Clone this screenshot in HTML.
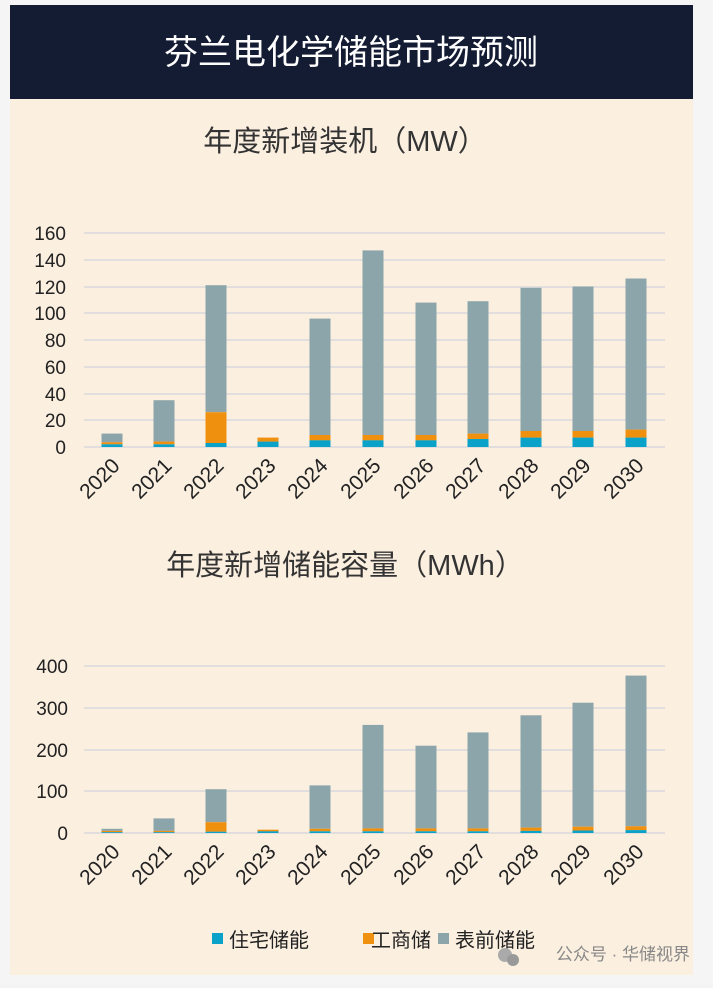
<!DOCTYPE html><html><head><meta charset="utf-8"><style>
body{margin:0;width:713px;height:983px;background:#f4f4f4;overflow:hidden}
</style></head><body>
<svg width="713" height="983" xmlns="http://www.w3.org/2000/svg" font-family="Liberation Sans, Noto Sans CJK SC, sans-serif">
<rect x="0" y="0" width="713" height="983" fill="#f5f5f5"/>
<rect x="10" y="5" width="683" height="970" fill="#fbefe0"/>
<rect x="10" y="5" width="683" height="94" fill="#131c33"/>
<text x="351" y="64" fill="#fff" font-size="34" text-anchor="middle">芬兰电化学储能市场预测</text>
<text x="345" y="151" fill="#333" font-size="29" text-anchor="middle">年度新增装机（MW）</text>
<text x="345" y="575" fill="#333" font-size="29" text-anchor="middle">年度新增储能容量（MWh）</text>
<g font-size="19" fill="#222">
<g stroke="#d9d9dc" stroke-width="1.5">
<line x1="84" x2="665" y1="447" y2="447"/><line x1="84" x2="665" y1="420" y2="420"/><line x1="84" x2="665" y1="394" y2="394"/><line x1="84" x2="665" y1="367" y2="367"/><line x1="84" x2="665" y1="340" y2="340"/><line x1="84" x2="665" y1="313" y2="313"/><line x1="84" x2="665" y1="287" y2="287"/><line x1="84" x2="665" y1="260" y2="260"/><line x1="84" x2="665" y1="233" y2="233"/>
</g>
<g text-anchor="end"><text x="66" y="454">0</text><text x="66" y="427">20</text><text x="66" y="401">40</text><text x="66" y="374">60</text><text x="66" y="347">80</text><text x="66" y="320">100</text><text x="66" y="294">120</text><text x="66" y="267">140</text><text x="66" y="240">160</text></g>
<g stroke="#d9d9dc" stroke-width="1.5">
<line x1="84" x2="665" y1="833" y2="833"/><line x1="84" x2="665" y1="791" y2="791"/><line x1="84" x2="665" y1="750" y2="750"/><line x1="84" x2="665" y1="708" y2="708"/><line x1="84" x2="665" y1="666" y2="666"/>
</g>
<g text-anchor="end"><text x="68" y="840">0</text><text x="68" y="798">100</text><text x="68" y="757">200</text><text x="68" y="715">300</text><text x="68" y="673">400</text></g>
</g>
<g fill="#8ba5aa">
<rect x="101.5" y="433.6" width="21" height="8.7"/>
<rect x="153.5" y="400.2" width="21" height="41.5"/>
<rect x="205.5" y="285.2" width="21" height="127"/>
<rect x="309.5" y="318.6" width="21" height="116.4"/>
<rect x="362.5" y="250.4" width="21" height="184.6"/>
<rect x="415.5" y="302.6" width="21" height="132.4"/>
<rect x="467.5" y="301.2" width="21" height="132.4"/>
<rect x="520.5" y="287.8" width="21" height="143.2"/>
<rect x="572.5" y="286.5" width="21" height="144.5"/>
<rect x="625.5" y="278.5" width="21" height="151.1"/>
</g>
<g fill="#f0900f">
<rect x="101.5" y="442.3" width="21" height="2"/>
<rect x="153.5" y="441.6" width="21" height="2.7"/>
<rect x="205.5" y="412.2" width="21" height="30.8"/>
<rect x="257.5" y="437.6" width="21" height="4.1"/>
<rect x="309.5" y="435" width="21" height="5.4"/>
<rect x="362.5" y="435" width="21" height="5.4"/>
<rect x="415.5" y="435" width="21" height="5.4"/>
<rect x="467.5" y="433.6" width="21" height="5.4"/>
<rect x="520.5" y="431" width="21" height="6.7"/>
<rect x="572.5" y="431" width="21" height="6.7"/>
<rect x="625.5" y="429.6" width="21" height="8"/>
</g>
<g fill="#0aa2c8">
<rect x="101.5" y="444.3" width="21" height="2.7"/>
<rect x="153.5" y="444.3" width="21" height="2.7"/>
<rect x="205.5" y="443" width="21" height="4"/>
<rect x="257.5" y="441.6" width="21" height="5.4"/>
<rect x="309.5" y="440.3" width="21" height="6.7"/>
<rect x="362.5" y="440.3" width="21" height="6.7"/>
<rect x="415.5" y="440.3" width="21" height="6.7"/>
<rect x="467.5" y="439" width="21" height="8"/>
<rect x="520.5" y="437.6" width="21" height="9.4"/>
<rect x="572.5" y="437.6" width="21" height="9.4"/>
<rect x="625.5" y="437.6" width="21" height="9.4"/>
</g>
<g fill="#8ba5aa">
<rect x="101.5" y="828.8" width="21" height="2.1"/>
<rect x="153.5" y="818.4" width="21" height="12.5"/>
<rect x="205.5" y="789.2" width="21" height="33"/>
<rect x="309.5" y="785.4" width="21" height="43.4"/>
<rect x="362.5" y="724.9" width="21" height="103.5"/>
<rect x="415.5" y="745.7" width="21" height="82.7"/>
<rect x="467.5" y="732.4" width="21" height="96"/>
<rect x="520.5" y="715.3" width="21" height="112.3"/>
<rect x="572.5" y="702.7" width="21" height="124"/>
<rect x="625.5" y="675.6" width="21" height="150.7"/>
</g>
<g fill="#f0900f">
<rect x="101.5" y="830.9" width="21" height="1.3"/>
<rect x="153.5" y="830.9" width="21" height="1.3"/>
<rect x="205.5" y="822.2" width="21" height="9.6"/>
<rect x="257.5" y="829.7" width="21" height="1.7"/>
<rect x="309.5" y="828.8" width="21" height="2.5"/>
<rect x="362.5" y="828.4" width="21" height="2.9"/>
<rect x="415.5" y="828.4" width="21" height="2.9"/>
<rect x="467.5" y="828.4" width="21" height="2.9"/>
<rect x="520.5" y="827.6" width="21" height="3.3"/>
<rect x="572.5" y="826.7" width="21" height="3.8"/>
<rect x="625.5" y="826.3" width="21" height="3.8"/>
</g>
<g fill="#0aa2c8">
<rect x="101.5" y="832.2" width="21" height="0.8"/>
<rect x="153.5" y="832.2" width="21" height="0.8"/>
<rect x="205.5" y="831.7" width="21" height="1.3"/>
<rect x="257.5" y="831.3" width="21" height="1.7"/>
<rect x="309.5" y="831.3" width="21" height="1.7"/>
<rect x="362.5" y="831.3" width="21" height="1.7"/>
<rect x="415.5" y="831.3" width="21" height="1.7"/>
<rect x="467.5" y="831.3" width="21" height="1.7"/>
<rect x="520.5" y="830.9" width="21" height="2.1"/>
<rect x="572.5" y="830.5" width="21" height="2.5"/>
<rect x="625.5" y="830.1" width="21" height="2.9"/>
</g>
<g font-size="21" fill="#222" text-anchor="end">
<text transform="translate(121,467) rotate(-45)">2020</text>
<text transform="translate(173,467) rotate(-45)">2021</text>
<text transform="translate(225,467) rotate(-45)">2022</text>
<text transform="translate(277,467) rotate(-45)">2023</text>
<text transform="translate(329,467) rotate(-45)">2024</text>
<text transform="translate(382,467) rotate(-45)">2025</text>
<text transform="translate(435,467) rotate(-45)">2026</text>
<text transform="translate(487,467) rotate(-45)">2027</text>
<text transform="translate(540,467) rotate(-45)">2028</text>
<text transform="translate(592,467) rotate(-45)">2029</text>
<text transform="translate(645,467) rotate(-45)">2030</text>
<text transform="translate(121,853) rotate(-45)">2020</text>
<text transform="translate(173,853) rotate(-45)">2021</text>
<text transform="translate(225,853) rotate(-45)">2022</text>
<text transform="translate(277,853) rotate(-45)">2023</text>
<text transform="translate(329,853) rotate(-45)">2024</text>
<text transform="translate(382,853) rotate(-45)">2025</text>
<text transform="translate(435,853) rotate(-45)">2026</text>
<text transform="translate(487,853) rotate(-45)">2027</text>
<text transform="translate(540,853) rotate(-45)">2028</text>
<text transform="translate(592,853) rotate(-45)">2029</text>
<text transform="translate(645,853) rotate(-45)">2030</text>
</g>
<g font-size="20" fill="#222">
<rect x="212" y="933" width="11" height="11" fill="#0aa2c8"/><text x="229" y="947">住宅储能</text>
<rect x="363" y="933" width="11" height="11" fill="#f0900f"/><text x="371" y="947">工商储</text>
<rect x="438" y="933" width="11" height="11" fill="#8ba5aa"/><text x="455" y="947">表前储能</text>
</g>
<circle cx="505" cy="955" r="7" fill="#aaa"/><circle cx="513" cy="960" r="6" fill="#999"/>
<text x="690" y="960" fill="#888" font-size="17" text-anchor="end">公众号 · 华储视界</text>
</svg></body></html>
